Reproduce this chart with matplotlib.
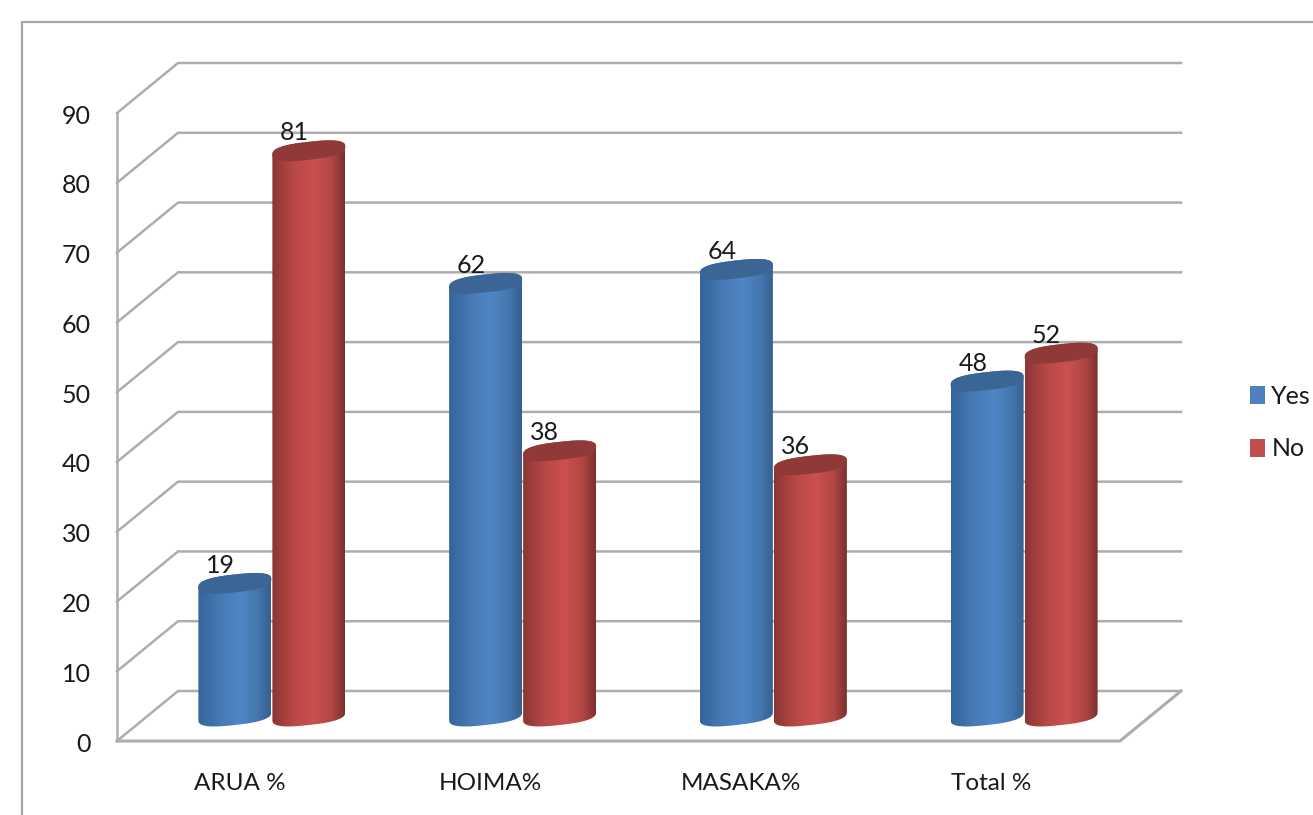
#!/usr/bin/env python3
# -*- coding: utf-8 -*-
import numpy as np
import matplotlib
matplotlib.use('Agg')
import matplotlib.pyplot as plt
from matplotlib.colors import LinearSegmentedColormap
from matplotlib.patches import Patch, PathPatch
from matplotlib.path import Path
from matplotlib.transforms import ScaledTranslation

categories = ['ARUA %', 'HOIMA%', 'MASAKA%', 'Total %']
yes_values = [19, 62, 64, 48]
no_values = [81, 38, 36, 52]
y_ticks = [0, 10, 20, 30, 40, 50, 60, 70, 80, 90]

plt.rcParams['font.family'] = ['Lato', 'DejaVu Sans']

W, H = 1313, 815
fig = plt.figure(figsize=(W / 100, H / 100), dpi=100)
# 正面坐标系: x 117..1120 px, y 741..113 px
ax = fig.add_axes([117 / W, 1 - 741 / H, (1120 - 117) / W, (741 - 113) / H])
ax.set_xlim(0, 4)
ax.set_ylim(0, 90)

px_x = 4 / (1120 - 117)
px_y = 90 / (741 - 113)
depth_x = 61 * px_x
depth_y = 50 * px_y
grid_color = '#adadad'

# 外框
fig.add_artist(plt.Line2D([22 / W, 22 / W, 1], [0, 1 - 22 / H, 1 - 22 / H],
                          color='#a6a6a6', lw=1.6))

# 墙面网格
for v in y_ticks:
    ax.plot([0, depth_x, 4 + depth_x], [v, v + depth_y, v + depth_y],
            color=grid_color, lw=1.8, clip_on=False, zorder=1, solid_joinstyle='miter')
ax.plot([0, 0], [0, 90], color=grid_color, lw=1.8, clip_on=False, zorder=1)
ax.plot([0, 4, 4 + depth_x], [0, 0, depth_y], color=grid_color, lw=2.2, clip_on=False, zorder=1)

blue_cmap = LinearSegmentedColormap.from_list(
    'blue3d', [(0, '#34649a'), (0.3, '#4779b5'), (0.58, '#4f86c6'), (0.82, '#4576ae'), (1, '#355f8e')])
red_cmap = LinearSegmentedColormap.from_list(
    'red3d', [(0, '#8a3634'), (0.3, '#b84846'), (0.58, '#cb514f'), (0.82, '#b04644'), (1, '#7c302e')])
gradient = np.linspace(0, 1, 256).reshape(1, -1)

bar_w = 73 * px_x
a_x = bar_w / 2
b_y = 9 * px_y
tilt = 4 * px_y  # 椭圆向右上倾斜
base_y = 25 * px_y
offset_x = 30 * px_x


def ellipse_pts(cx, cy, t):
    # 指数小于1让两端更圆钝
    c = np.sign(np.cos(t)) * np.abs(np.cos(t)) ** 0.75
    s = np.sign(np.sin(t)) * np.abs(np.sin(t)) ** 0.75
    return cx + a_x * c, cy + b_y * s + tilt * c


def draw_cylinder(cx, value, cmap, cap_color, z):
    y0 = base_y
    y1 = base_y + value
    xb, yb = ellipse_pts(cx, y0, np.linspace(np.pi, 2 * np.pi, 60))
    xt, yt = ellipse_pts(cx, y1, np.linspace(0, np.pi, 60))
    body = np.column_stack([np.r_[xb, xt], np.r_[yb, yt]])
    patch = PathPatch(Path(np.vstack([body, body[0]]), closed=True), fc='none', ec='none', zorder=z)
    ax.add_patch(patch)
    im = ax.imshow(gradient, cmap=cmap, aspect='auto', zorder=z,
                   extent=[cx - a_x, cx + a_x, y0 - 3 * b_y, y1 + 3 * b_y])
    im.set_clip_path(patch)
    xc, yc = ellipse_pts(cx, y1, np.linspace(0, 2 * np.pi, 80))
    ax.fill(xc, yc, color=cap_color, lw=0, zorder=z + 0.1)


for i in range(len(categories)):
    z = 3 + i
    cx_yes = i + 0.5 - a_x + offset_x - 1 * px_x
    cx_no = i + 0.5 + a_x + offset_x
    draw_cylinder(cx_yes, yes_values[i], blue_cmap, '#3a6594', z)
    draw_cylinder(cx_no, no_values[i], red_cmap, '#8f3a38', z + 0.3)
    ax.text(cx_yes - 14 * px_x, base_y + yes_values[i] + 18 * px_y, str(yes_values[i]),
            ha='center', va='center', fontsize=18, color='#1a1a1a', zorder=20)
    ax.text(cx_no - 15 * px_x, base_y + no_values[i] + 18 * px_y, str(no_values[i]),
            ha='center', va='center', fontsize=18, color='#1a1a1a', zorder=20)

ax.set_xlim(0, 4)
ax.set_ylim(0, 90)
ax.set_yticks(y_ticks)
ax.set_xticks([i + 0.5 - 3 * px_x for i in range(len(categories))])
ax.set_xticklabels(categories)
ax.tick_params(axis='x', length=0, pad=23, labelsize=17.5, labelcolor='#1a1a1a')
ax.tick_params(axis='y', length=0, pad=19, labelsize=18, labelcolor='#1a1a1a')
for lab in ax.get_yticklabels():
    lab.set_transform(lab.get_transform() + ScaledTranslation(0, -1 / 100, fig.dpi_scale_trans))
for s in ax.spines.values():
    s.set_visible(False)
ax.patch.set_visible(False)

handles = [Patch(fc='#4f81bd', ec='none', label='Yes'), Patch(fc='#c0504d', ec='none', label='No')]
fig.legend(handles=handles, loc='center left', bbox_to_anchor=(1250 / W, 1 - 422.5 / H),
           frameon=False, fontsize=18, handlelength=0.6, handleheight=0.7, handletextpad=0.25,
           labelspacing=1.2, borderpad=0, borderaxespad=0, labelcolor='#1a1a1a')

fig.savefig('out.png', dpi=100)
